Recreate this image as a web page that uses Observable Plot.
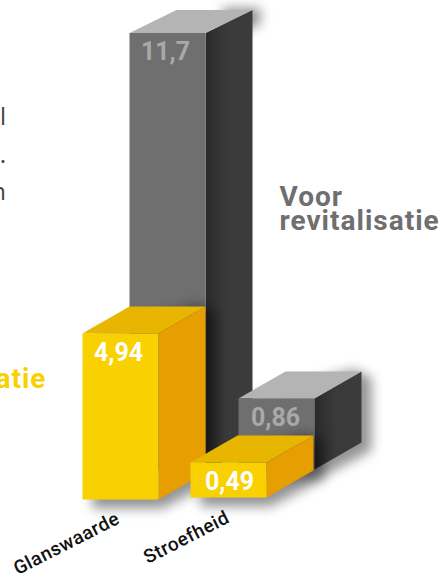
<!DOCTYPE html>
<html><head><meta charset="utf-8">
<script src="https://cdn.jsdelivr.net/npm/d3@7"></script>
<script src="https://cdn.jsdelivr.net/npm/@observablehq/plot@0.6"></script>
<style>html,body{margin:0;padding:0;background:#fff;overflow:hidden}svg{display:block}
g[font-size="28"] text{letter-spacing:1px}
g[font-size="19"] text{letter-spacing:.5px}
</style>
</head><body><div id="chart"></div>
<script>
const metrics = ["Glanswaarde", "Stroefheid"];
const voor = [11.7, 0.86];
const na = [4.94, 0.49];
const voorLabel = ["Voor", "revitalisatie"];
const naLabel = "Na revitalisatie";
const margeLines = ["al", "n.", "en"];

// Axis-free pictorial chart: each metric has its own value-to-height factor, as in the original.
const layout = {
  voor: {unit: [37.4, 82.6], left: [129, 238], base: [470, 469], nudge: [-2, -1], front: "#6f6f6f", top: "#b4b4b4", side: "url(#darkSide)", label: "#a9a9a9"},
  na: {unit: [33.6, 71.4], left: [82, 190], base: [499, 497], nudge: [-2, 1], front: "#f9d100", top: "#e8b500", side: "#e69e00", label: "#ffffff"}
};
const barW = 76, depthX = 47, depthY = 27;

function faces(values, s, key) {
  const out = [];
  values.forEach((v, i) => {
    const h = v * s.unit[i], x0 = s.left[i], x1 = x0 + barW, b = s.base[i], t = b - h;
    const dy = key === "voor" && i === 0 ? 23 : depthY;
    const poly = (face, fill, pts) => pts.forEach(([x, y]) => out.push({id: key + i + face, fill, x, y}));
    poly("side", s.side, [[x1, t], [x1 + depthX, t - dy], [x1 + depthX, b - dy], [x1, b]]);
    poly("top", s.top, [[x0, t], [x0 + depthX, t - dy], [x1 + depthX, t - dy], [x1, t]]);
    poly("front", s.front, [[x0, t], [x1, t], [x1, b], [x0, b]]);
  });
  return out;
}
function shadow(values, s, key) {
  const out = [];
  values.forEach((v, i) => {
    const h = v * s.unit[i], x0 = s.left[i], x1 = x0 + barW, b = s.base[i], t = b - h;
    const dy = key === "voor" && i === 0 ? 23 : depthY;
    const tall = key === "voor" && i === 0;
    const pts = tall
      ? [[x1 + depthX - 30, t - dy - 2], [x1 + depthX + 8, t - dy - 2], [x1 + depthX + 8, t - dy + 14], [x1 + depthX - 30, t - dy + 30]]
      : [[x0 + 10, b + 9], [x1 + 4, b + 9], [x1 + depthX + 10, b - dy + 8], [x1 + depthX + 10, t - dy + 6], [x1 + depthX - 8, t - dy - 2], [x0 + 10, t]];
    pts.forEach(([x, y]) => out.push({id: key + i, x, y}));
  });
  return out;
}
const common = {x: "x", y: "y", z: "id", curve: "linear-closed", stroke: "none"};
const faceMark = (d) => Plot.line(d, {...common, fill: "fill"});
const shadowMark = (d) => Plot.line(d, {...common, fill: "#000", fillOpacity: 0.42, imageFilter: "blur(6px)"});
const valueText = (values, s) => Plot.text(values.map((v, i) => ({
  t: String(v).replace(".", ","), x: s.left[i] + barW / 2 + s.nudge[i], y: s.base[i] - v * s.unit[i] + 19.5
})), {x: "x", y: "y", text: "t", fill: s.label, fontSize: 25, fontWeight: 700, fontFamily: "Roboto"});

const plot = Plot.plot({
  width: 440, height: 573, margin: 0,
  x: {domain: [0, 440], range: [0, 440], axis: null},
  y: {domain: [573, 0], range: [573, 0], axis: null},
  style: {background: "#fff", overflow: "hidden"},
  marks: [
    shadowMark(shadow(voor, layout.voor, "voor")),
    faceMark(faces(voor, layout.voor, "voor")),
    valueText(voor, layout.voor),
    shadowMark(shadow(na, layout.na, "na")),
    faceMark(faces(na, layout.na, "na")),
    valueText(na, layout.na),
    Plot.text(voorLabel, {x: () => 279, y: (d, i) => 197 + i * 24, text: (d) => d, textAnchor: "start", fill: "#6f6f6f", fontSize: 28, fontWeight: 700, fontFamily: "Roboto"}),
    Plot.text([naLabel], {x: () => 46, y: () => 379, text: (d) => d, textAnchor: "end", fill: "#f9d100", fontSize: 28, fontWeight: 700, fontFamily: "Roboto"}),
    Plot.text(metrics, {x: (d, i) => [66, 186][i], y: (d, i) => [543, 537][i], text: (d) => d, rotate: -27, fill: "#111", fontSize: 19, fontWeight: 500, fontFamily: "Roboto"}),
    Plot.text(margeLines, {x: () => 5.5, y: (d, i) => [117, 155, 192][i], text: (d) => d, textAnchor: "end", fill: "#444", fontSize: 24, fontWeight: 400, fontFamily: "Open Sans"})
  ]
});
const defs = d3.select(plot).insert("defs", ":first-child");
const grad = defs.append("linearGradient").attr("id", "darkSide");
grad.append("stop").attr("offset", 0).attr("stop-color", "#2a2a2a");
grad.append("stop").attr("offset", 0.45).attr("stop-color", "#3a3a3a");
grad.append("stop").attr("offset", 1).attr("stop-color", "#3c3c3c");
document.getElementById("chart").append(plot);
</script></body></html>
